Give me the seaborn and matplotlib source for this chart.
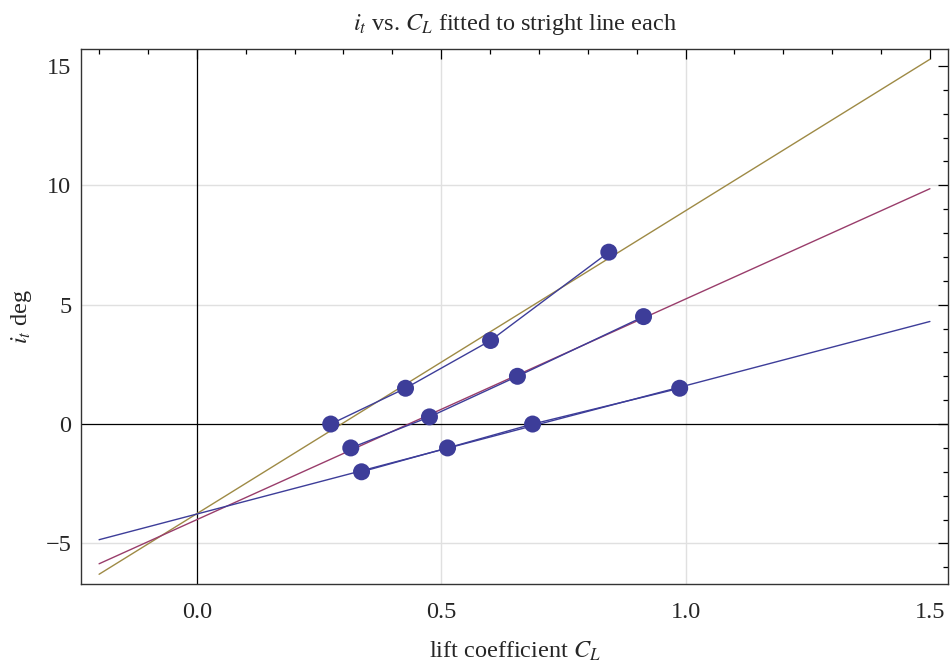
import numpy as np
import pandas as pd
import matplotlib
matplotlib.use('Agg')
import matplotlib.pyplot as plt
import seaborn as sns
from matplotlib.ticker import MultipleLocator

# measured points (lift coefficient CL, tail incidence it) for three runs
cl_a = [0.274, 0.427, 0.601, 0.843]
it_a = [0.0, 1.5, 3.5, 7.2]
cl_b = [0.315, 0.476, 0.656, 0.914]
it_b = [-1.0, 0.3, 2.0, 4.5]
cl_c = [0.337, 0.513, 0.687, 0.988]
it_c = [-2.0, -1.0, 0.0, 1.5]

fit_range = [-0.2, 1.5]   # range over which the fitted lines are drawn

pt_color = '#3d3d99'
fit_colors = {'a': '#9e8a45', 'b': '#993d6b', 'c': '#3d3d99'}

df = pd.concat([
    pd.DataFrame({'CL': cl_a, 'it': it_a, 'set': 'a'}),
    pd.DataFrame({'CL': cl_b, 'it': it_b, 'set': 'b'}),
    pd.DataFrame({'CL': cl_c, 'it': it_c, 'set': 'c'}),
], ignore_index=True)

sns.set_style('white')
plt.rcParams['font.family'] = ['Liberation Serif', 'DejaVu Serif']
plt.rcParams['mathtext.fontset'] = 'stix'
fs = 17.5

fig = plt.figure(figsize=(9.5, 6.63), dpi=100)
fig.subplots_adjust(left=81/950, right=948/950, top=1-49/663, bottom=1-584/663)
ax = fig.add_subplot(111)

# grid and axes lines
for gx in [0.5, 1.0]:
    ax.axvline(gx, color='#e0e0e0', lw=1.0, zorder=0)
for gy in [-5, 5, 10]:
    ax.axhline(gy, color='#e0e0e0', lw=1.0, zorder=0)
ax.axvline(0, color='black', lw=0.9, zorder=1)
ax.axhline(0, color='black', lw=0.9, zorder=1)

# least squares straight line for each run
xs = np.array(fit_range)
for key, grp in df.groupby('set'):
    k, b = np.polyfit(grp['CL'], grp['it'], 1)
    ax.plot(xs, k * xs + b, color=fit_colors[key], lw=1.0, zorder=2)

# joined data points
sns.lineplot(data=df, x='CL', y='it', units='set', estimator=None, sort=False,
             color=pt_color, lw=1.0, ax=ax, zorder=3)
sns.scatterplot(data=df, x='CL', y='it', color=pt_color, s=150,
                edgecolor='none', ax=ax, zorder=4, legend=False)

ax.set_xlim(-0.237, 1.537)
ax.set_ylim(-6.70, 15.71)
ax.xaxis.set_major_locator(MultipleLocator(0.5))
ax.xaxis.set_minor_locator(MultipleLocator(0.1))
ax.yaxis.set_major_locator(MultipleLocator(5))
ax.yaxis.set_minor_locator(MultipleLocator(1))
ax.xaxis.set_major_formatter(matplotlib.ticker.FormatStrFormatter('%.1f'))
ax.yaxis.set_major_formatter(matplotlib.ticker.FuncFormatter(
    lambda v, p: '\u2212%d' % abs(v) if v < 0 else '%d' % v))
ax.tick_params(which='both', direction='in', top=True, right=True,
               color='black', width=0.9, labelsize=fs)
ax.tick_params(which='major', length=7.5)
ax.tick_params(which='minor', length=3.8)
ax.tick_params(axis='x', pad=13)
ax.tick_params(axis='y', pad=7)
for s in ax.spines.values():
    s.set_color('#333333')
    s.set_linewidth(1.0)

ax.set_title(r'$i_t$ vs. $C_L$ fitted to stright line each', fontsize=fs, pad=14)
ax.set_xlabel(r'lift coefficient $C_L$', fontsize=fs, labelpad=12)
ax.set_ylabel(r'$i_t$ deg', fontsize=fs, labelpad=8)

fig.savefig('out.png', dpi=100)
